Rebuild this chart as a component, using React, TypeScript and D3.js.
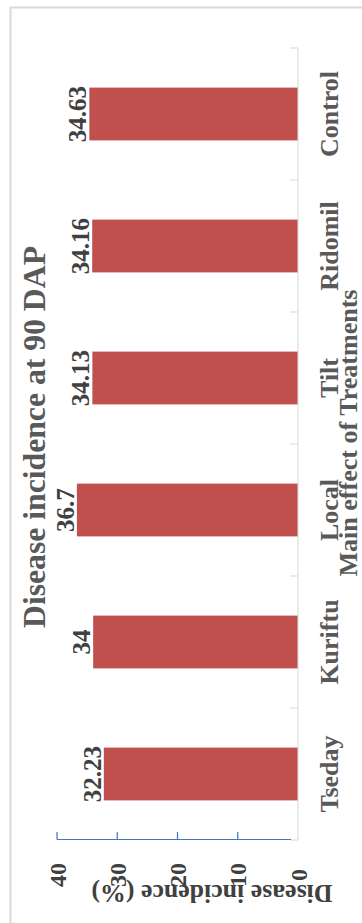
import React from "react";
import * as d3 from "d3";

// Data (original chart order, left-to-right before rotation)
const categories: string[] = ["Tseday", "Kuriftu", "Local", "Tilt", "Ridomil", "Control"];
const incidence: number[] = [32.23, 34, 36.7, 34.13, 34.16, 34.63];
const valueLabels: string[] = ["32.23", "34", "36.7", "34.13", "34.16", "34.63"];
const valueTicks: number[] = [0, 10, 20, 30, 40];

const chartTitle = "Disease incidence at 90 DAP";
const categoryAxisTitle = "Main effect of Treatments";
const valueAxisTitle = "Disease incidence (%)";

const W = 362;
const H = 923;
const FONT = "'Liberation Serif', 'Times New Roman', serif";

export default function App() {
  // value axis runs horizontally (0 at right, 40 at left)
  const x = d3.scaleLinear().domain([0, 40]).range([298, 57]);
  // category axis runs vertically (first category at the bottom)
  const y = d3
    .scaleBand<string>()
    .domain(categories)
    .range([840, 48])
    .paddingInner(0.6)
    .paddingOuter(0.3);

  const step = y.step();
  const boundaries = d3.range(categories.length + 1).map((i) => 48 + i * step);

  return (
    <svg
      width={W}
      height={H}
      style={{ position: "absolute", left: 0, top: 0, background: "#fff" }}
      fontFamily={FONT}
    >
      {/* frame */}
      <rect x={10.5} y={7.5} width={400} height={1000} fill="#fff" stroke="#d9d9d9" strokeWidth={2} />

      {/* chart title */}
      <text
        transform={`translate(45,437) rotate(-90)`}
        textAnchor="middle"
        fontSize={31}
        fontWeight="bold"
        fill="#595959"
        textLength={382}
        lengthAdjust="spacingAndGlyphs"
      >
        {chartTitle}
      </text>

      {/* bars */}
      {categories.map((c, i) => {
        const v = incidence[i];
        const y0 = y(c) as number;
        return (
          <rect
            key={c}
            x={x(v)}
            y={y0}
            width={x(0) - x(v)}
            height={y.bandwidth()}
            fill="#C0504D"
          />
        );
      })}

      {/* value labels */}
      {categories.map((c, i) => {
        const v = incidence[i];
        const cy = (y(c) as number) + y.bandwidth() / 2;
        return (
          <text
            key={c + "-lab"}
            transform={`translate(${x(v) - 3},${cy}) rotate(-90)`}
            textAnchor="middle"
            fontSize={25}
            fontWeight="bold"
            fill="#404040"
          >
            {valueLabels[i]}
          </text>
        );
      })}

      {/* category axis */}
      <line x1={298} x2={298} y1={48} y2={840} stroke="#d9d9d9" strokeWidth={1} />
      {boundaries.map((b, i) => (
        <line key={"bt" + i} x1={290} x2={298} y1={b} y2={b} stroke="#d9d9d9" strokeWidth={1} />
      ))}
      {categories.map((c) => {
        const cy = (y(c) as number) + y.bandwidth() / 2;
        return (
          <text
            key={c + "-cat"}
            transform={`translate(338,${cy}) rotate(-90)`}
            textAnchor="middle"
            fontSize={26}
            fontWeight="bold"
            fill="#595959"
          >
            {c}
          </text>
        );
      })}
      <text
        transform={`translate(357,433) rotate(-90)`}
        textAnchor="middle"
        fontSize={26}
        fontWeight="bold"
        fill="#595959"
        textLength={287}
        lengthAdjust="spacingAndGlyphs"
      >
        {categoryAxisTitle}
      </text>

      {/* value axis */}
      <line x1={57} x2={291} y1={839.5} y2={839.5} stroke="#4472C4" strokeWidth={1.2} />
      {valueTicks
        .filter((t) => t !== 0)
        .map((t) => (
          <line
            key={"vt" + t}
            x1={x(t)}
            x2={x(t)}
            y1={832}
            y2={839.5}
            stroke="#4472C4"
            strokeWidth={1.2}
          />
        ))}
      {valueTicks.map((t) => (
        <text
          key={"vl" + t}
          transform={`translate(${x(t) + 8.5},875) rotate(-90)`}
          textAnchor="middle"
          fontSize={24}
          fontWeight="bold"
          fill="#404040"
        >
          {t}
        </text>
      ))}
      <text
        transform={`translate(212,885) rotate(180)`}
        textAnchor="middle"
        fontSize={26}
        fontWeight="bold"
        fill="#404040"
        textLength={241}
        lengthAdjust="spacingAndGlyphs"
      >
        {valueAxisTitle}
      </text>
    </svg>
  );
}
